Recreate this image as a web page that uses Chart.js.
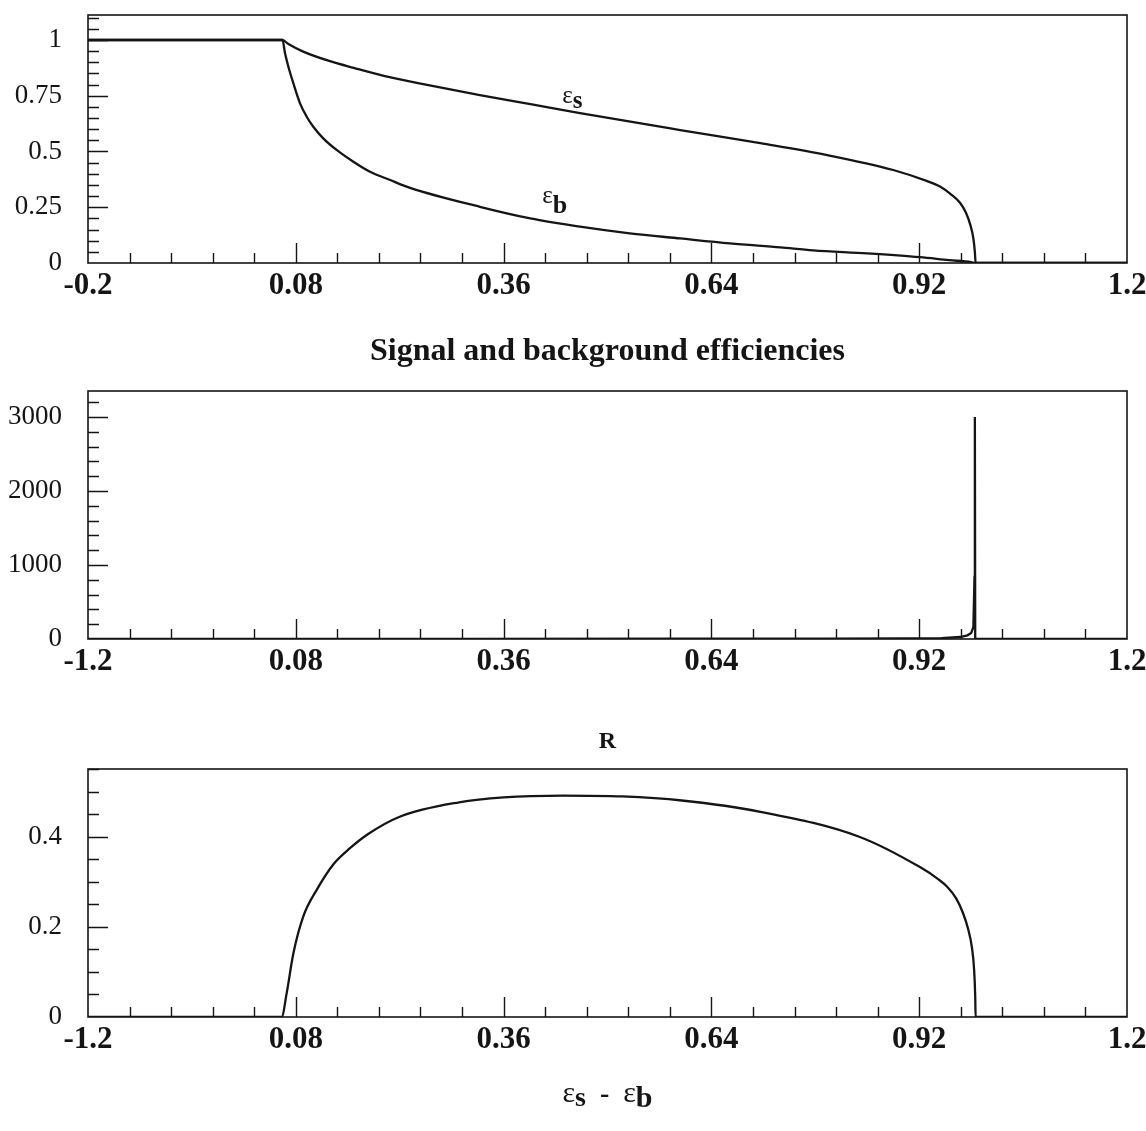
<!DOCTYPE html>
<html>
<head>
<meta charset="utf-8">
<script src="https://cdn.jsdelivr.net/npm/chart.js@4.4.0/dist/chart.umd.min.js"></script>
<style>
body { margin: 0; background: #fff; }
.panel { position: absolute; left: 0; width: 1146px; }
</style>
</head>
<body>
<div class="panel" style="top:0;height:380px"><canvas id="eff"></canvas></div>
<div class="panel" style="top:380px;height:380px"><canvas id="ratio"></canvas></div>
<div class="panel" style="top:760px;height:371px"><canvas id="diff"></canvas></div>
<script>
// x axis, shared by the three panels
const xMajor = [-0.2, 0.08, 0.36, 0.64, 0.92, 1.2];
const xLabelsTop = ['-0.2', '0.08', '0.36', '0.64', '0.92', '1.2'];
const xLabelsLow = ['-1.2', '0.08', '0.36', '0.64', '0.92', '1.2'];

// panel 1 : signal and background efficiencies
const sigX = [-0.2, 0.062, 0.07, 0.09, 0.126, 0.158, 0.2, 0.25, 0.328, 0.4, 0.463, 0.598, 0.706, 0.796, 0.885, 0.93, 0.948, 0.962, 0.975, 0.983, 0.989, 0.993, 0.995, 0.996, 1.2];
const sigY = [1, 1, 0.982, 0.948, 0.905, 0.875, 0.838, 0.803, 0.753, 0.71, 0.672, 0.596, 0.537, 0.484, 0.417, 0.368, 0.343, 0.31, 0.27, 0.225, 0.17, 0.11, 0.05, 0, 0];
const bkgX = [-0.2, 0.062, 0.0655, 0.07, 0.0767, 0.0857, 0.0947, 0.1036, 0.117, 0.135, 0.1576, 0.18, 0.207, 0.234, 0.328, 0.396, 0.463, 0.53, 0.598, 0.665, 0.733, 0.777, 0.85, 0.921, 0.96, 0.99, 0.996, 1.2];
const bkgY = [1, 1, 0.94, 0.88, 0.806, 0.716, 0.656, 0.611, 0.559, 0.507, 0.454, 0.409, 0.372, 0.337, 0.252, 0.2, 0.163, 0.133, 0.11, 0.088, 0.07, 0.057, 0.043, 0.026, 0.013, 0.004, 0, 0];
const y1Ticks = [0, 0.25, 0.5, 0.75, 1];
const y1Labels = ['0', '0.25', '0.5', '0.75', '1'];

// panel 2 : R
const rX = [-0.2, 0.06, 0.3, 0.6, 0.8, 0.9, 0.95, 0.975, 0.985, 0.99, 0.993, 0.9945, 0.995, 0.9955, 1.2];
const rY = [1, 1, 2, 4, 6, 9, 12, 27, 50, 80, 160, 840, 3000, 0, 0];
const y2Ticks = [0, 1000, 2000, 3000];
const y2Labels = ['0', '1000', '2000', '3000'];

// panel 3 : eps_s - eps_b
const dX = [-0.2, 0.061, 0.0676, 0.0767, 0.09, 0.108, 0.131, 0.153, 0.176, 0.22, 0.3, 0.36, 0.44, 0.52, 0.6, 0.706, 0.84, 0.921, 0.945, 0.958, 0.97, 0.979, 0.986, 0.991, 0.994, 0.9955, 0.996, 1.2];
const dY = [0, 0, 0.052, 0.141, 0.223, 0.282, 0.34, 0.375, 0.405, 0.445, 0.477, 0.488, 0.492, 0.49, 0.481, 0.456, 0.40, 0.333, 0.307, 0.289, 0.263, 0.231, 0.195, 0.155, 0.105, 0.045, 0, 0];
const y3Ticks = [0, 0.2, 0.4];
const y3Labels = ['0', '0.2', '0.4'];

const SERIF = '"Liberation Serif", "DejaVu Serif", serif';
const INK = '#151515';

const toPts = (xs, ys) => xs.map((x, i) => ({ x: x, y: ys[i] }));

// frame + inward ticks (ROOT style)
const axisDecor = {
  id: 'axisDecor',
  afterDatasetsDraw(chart, args, opts) {
    const { ctx, chartArea: a, scales: { x, y } } = chart;
    ctx.save();
    ctx.strokeStyle = INK;
    ctx.lineWidth = 1.6;
    ctx.strokeRect(a.left, a.top, a.right - a.left, a.bottom - a.top);
    ctx.lineWidth = 1.4;
    ctx.beginPath();
    for (let i = 1; i < 25; i++) {
      const px = Math.round(x.getPixelForValue(-0.2 + i * 0.056)) + 0.5;
      const len = i % 5 === 0 ? 20 : 10;
      ctx.moveTo(px, a.bottom);
      ctx.lineTo(px, a.bottom - len);
    }
    for (let i = 1; ; i++) {
      const v = i * opts.yMinor;
      if (v > y.max) break;
      const py = Math.round(y.getPixelForValue(v)) + 0.5;
      const len = i % opts.yEvery === 0 ? 20 : 11;
      ctx.moveTo(a.left, py);
      ctx.lineTo(a.left + len, py);
    }
    ctx.stroke();
    ctx.restore();
  }
};

// epsilon labels with bold subscripts
function drawEps(ctx, parts, x, y) {
  let cx = x;
  parts.forEach(p => {
    ctx.font = p.font;
    ctx.fillText(p.t, cx, y + (p.dy || 0));
    cx += ctx.measureText(p.t).width;
  });
}
function epsWidth(ctx, parts) {
  let w = 0;
  parts.forEach(p => { ctx.font = p.font; w += ctx.measureText(p.t).width; });
  return w;
}
const epsText = {
  id: 'epsText',
  afterDraw(chart, args, opts) {
    const { ctx, chartArea: a, scales: { x, y } } = chart;
    ctx.save();
    ctx.fillStyle = INK;
    ctx.textBaseline = 'alphabetic';
    (opts.items || []).forEach(it => {
      drawEps(ctx, it.parts, x.getPixelForValue(it.x), y.getPixelForValue(it.y));
    });
    if (opts.title) {
      const w = epsWidth(ctx, opts.title);
      drawEps(ctx, opts.title, (a.left + a.right) / 2 - w / 2, a.bottom + opts.titleOffset);
    }
    ctx.restore();
  }
};

function xScale(labels, axisHeight, title, titlePad, titleSize) {
  return {
    type: 'linear', min: -0.2, max: 1.2,
    grid: { display: false, drawTicks: false }, border: { display: false },
    afterBuildTicks: s => { s.ticks = xMajor.map(v => ({ value: v })); },
    ticks: {
      autoSkip: false, maxRotation: 0, minRotation: 0, padding: 4, color: INK,
      font: { family: SERIF, size: 31, weight: 'bold' },
      callback: (v, i) => labels[i]
    },
    title: {
      display: !!title, text: title || '', color: INK,
      font: { family: SERIF, size: titleSize || 30, weight: 'bold' },
      padding: { top: 0, bottom: titlePad || 0 }
    },
    afterFit: s => { s.height = axisHeight; s.paddingLeft = 0; s.paddingRight = 0; }
  };
}

function yScale(max, ticks, labels) {
  return {
    type: 'linear', min: 0, max: max,
    grid: { display: false, drawTicks: false }, border: { display: false },
    afterBuildTicks: s => { s.ticks = ticks.map(v => ({ value: v })); },
    ticks: {
      autoSkip: false, padding: 26, color: INK,
      font: { family: SERIF, size: 27 },
      callback: (v, i) => labels[i]
    },
    afterFit: s => { s.width = 88; s.paddingTop = 0; s.paddingBottom = 0; }
  };
}

function lineSet(pts, smooth) {
  return {
    data: pts, borderColor: INK, borderWidth: 2.3, pointRadius: 0, fill: false,
    cubicInterpolationMode: smooth ? 'monotone' : 'default', tension: 0
  };
}

const common = {
  responsive: true, maintainAspectRatio: false, animation: false,
  events: [],
};

new Chart(document.getElementById('eff'), {
  type: 'line',
  data: { datasets: [lineSet(toPts(sigX, sigY), true), lineSet(toPts(bkgX, bkgY), true)] },
  options: Object.assign({}, common, {
    layout: { padding: { top: 15, right: 19, left: 0, bottom: 0 } },
    scales: {
      x: xScale(xLabelsTop, 117, 'Signal and background efficiencies', 9, 32),
      y: yScale(1.112, y1Ticks, y1Labels)
    },
    plugins: {
      legend: { display: false }, tooltip: { enabled: false },
      axisDecor: { yMinor: 0.05, yEvery: 5 },
      epsText: {
        items: [
          { x: 0.439, y: 0.7175, parts: [{ t: 'ε', font: '25px ' + SERIF }, { t: 's', font: 'bold 25px ' + SERIF, dy: 5 }] },
          { x: 0.412, y: 0.269, parts: [{ t: 'ε', font: '25px ' + SERIF }, { t: 'b', font: 'bold 26px ' + SERIF, dy: 10 }] }
        ]
      }
    }
  }),
  plugins: [axisDecor, epsText]
});

new Chart(document.getElementById('ratio'), {
  type: 'line',
  data: { datasets: [lineSet(toPts(rX, rY), false)] },
  options: Object.assign({}, common, {
    layout: { padding: { top: 11, right: 19, left: 0, bottom: 0 } },
    scales: {
      x: xScale(xLabelsLow, 121, 'R', 4, 24),
      y: yScale(3350, y2Ticks, y2Labels)
    },
    plugins: {
      legend: { display: false }, tooltip: { enabled: false },
      axisDecor: { yMinor: 200, yEvery: 5 }
    }
  }),
  plugins: [axisDecor]
});

new Chart(document.getElementById('diff'), {
  type: 'line',
  data: { datasets: [lineSet(toPts(dX, dY), true)] },
  options: Object.assign({}, common, {
    layout: { padding: { top: 9, right: 19, left: 0, bottom: 0 } },
    scales: {
      x: xScale(xLabelsLow, 114),
      y: yScale(0.551, y3Ticks, y3Labels)
    },
    plugins: {
      legend: { display: false }, tooltip: { enabled: false },
      axisDecor: { yMinor: 0.05, yEvery: 4 },
      epsText: {
        titleOffset: 85,
        title: [
          { t: 'ε', font: '30px ' + SERIF }, { t: 's', font: 'bold 28px ' + SERIF, dy: 4 },
          { t: '  -  ', font: 'bold 28px ' + SERIF },
          { t: 'ε', font: '30px ' + SERIF }, { t: 'b', font: 'bold 30px ' + SERIF, dy: 5 }
        ]
      }
    }
  }),
  plugins: [axisDecor, epsText]
});
</script>
</body>
</html>
